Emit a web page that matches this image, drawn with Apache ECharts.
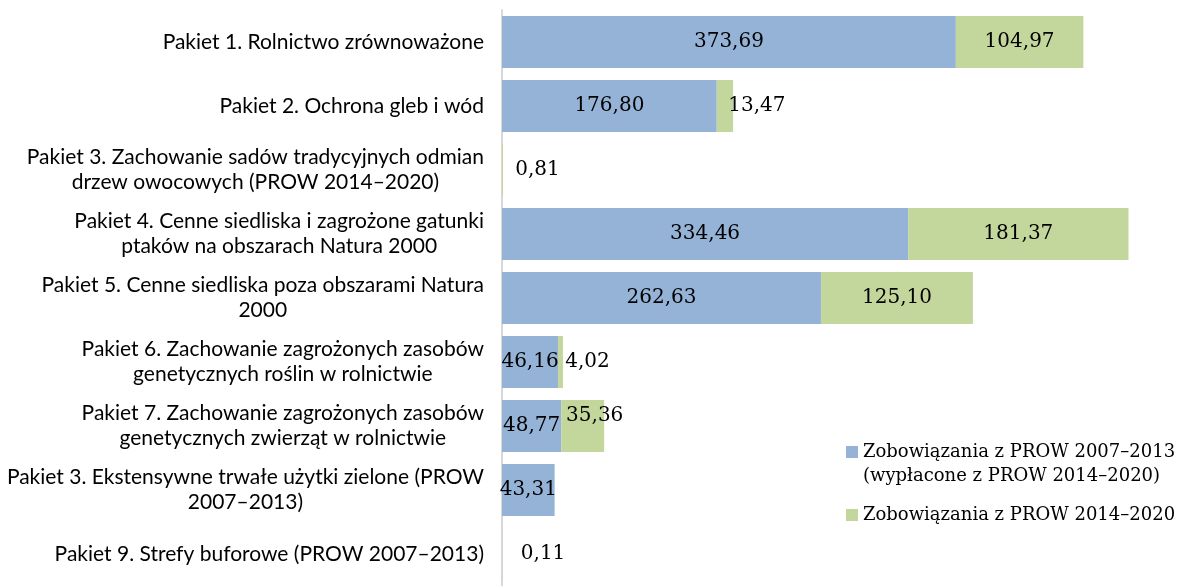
<!DOCTYPE html>
<html>
<head>
<meta charset="utf-8">
<script src="https://cdn.jsdelivr.net/npm/echarts@6/dist/echarts.min.js"></script>
<style>
  html, body { margin: 0; padding: 0; background: #fff; }
  #chart { width: 1178px; height: 586px; }
</style>
</head>
<body>
<div id="chart"></div>
<script>
// kategorie (pakiety)
const categories = [
  "Pakiet 1. Rolnictwo zrównoważone",
  "Pakiet 2. Ochrona gleb i wód",
  "Pakiet 3. Zachowanie sadów tradycyjnych odmian\ndrzew owocowych (PROW 2014–2020)",
  "Pakiet 4. Cenne siedliska i zagrożone gatunki\nptaków na obszarach Natura 2000",
  "Pakiet 5. Cenne siedliska poza obszarami Natura\n2000",
  "Pakiet 6. Zachowanie zagrożonych zasobów\ngenetycznych roślin w rolnictwie",
  "Pakiet 7. Zachowanie zagrożonych zasobów\ngenetycznych zwierząt w rolnictwie",
  "Pakiet 3. Ekstensywne trwałe użytki zielone (PROW\n2007–2013)",
  "Pakiet 9. Strefy buforowe (PROW 2007–2013)"
];
const seriesNames = [
  "Zobowiązania z PROW 2007–2013\n(wypłacone z PROW 2014–2020)",
  "Zobowiązania z PROW 2014–2020"
];
const prow0713 = [373.69, 176.80, 0, 334.46, 262.63, 46.16, 48.77, 43.31, 0.11];
const prow1420 = [104.97, 13.47, 0.81, 181.37, 125.10, 4.02, 35.36, 0, 0];

const colors = ["#95B3D7", "#C3D69B"];
const numFont = "DejaVu Serif";
const catFont = "Lato";

// przesunięcia etykiet dla małych słupków [seria][wiersz] = [dx, dy]
const labelShift = [
  { 8: [41, 0] },
  { 1: [32, 0], 2: [35, 0], 5: [27, 0], 6: [12, -10] }
];

function fmt(p) {
  return p.value ? p.value.toFixed(2).replace(".", ",") : "";
}

function buildData(values, s) {
  return values.map((v, i) => {
    const item = { value: v };
    if (labelShift[s][i]) item.label = { offset: labelShift[s][i] };
    return item;
  });
}

const myChart = echarts.init(document.getElementById("chart"));

const option = {
  animation: false,
  color: colors,
  grid: { left: 502, right: 8, top: 10, height: 582 },
  legend: {
    orient: "vertical",
    left: 841,
    top: 411,
    itemWidth: 12,
    itemHeight: 12,
    itemGap: 15,
    icon: "rect",
    formatter: name => name.indexOf("\n") >= 0 ? "\n" + name : name,
    textStyle: { fontFamily: numFont, fontSize: 18, lineHeight: 24, color: "#000" },
    data: seriesNames
  },
  xAxis: {
    type: "value",
    min: 0,
    max: 550,
    show: false
  },
  yAxis: {
    type: "category",
    inverse: true,
    data: categories,
    axisLine: { show: true, lineStyle: { color: "#D9D9D9", width: 2 } },
    axisTick: { show: false },
    axisLabel: {
      margin: 18,
      color: "#000",
      fontFamily: catFont,
      fontSize: 21,
      lineHeight: 25,
      formatter: v => v.split("\n").map(l => "{c|" + l + "}").join("\n"),
      rich: {
        c: { align: "center", fontFamily: catFont, fontSize: 21, lineHeight: 25, color: "#000" }
      }
    }
  },
  series: [
    {
      name: seriesNames[0],
      type: "bar",
      stack: "all",
      barWidth: 52,
      data: buildData(prow0713, 0),
      label: { show: true, position: "inside", formatter: fmt, color: "#000", fontFamily: numFont, fontSize: 20 }
    },
    {
      name: seriesNames[1],
      type: "bar",
      stack: "all",
      barWidth: 52,
      data: buildData(prow1420, 1),
      label: { show: true, position: "inside", formatter: fmt, color: "#000", fontFamily: numFont, fontSize: 20 }
    }
  ]
};

myChart.setOption(option);
</script>
</body>
</html>
